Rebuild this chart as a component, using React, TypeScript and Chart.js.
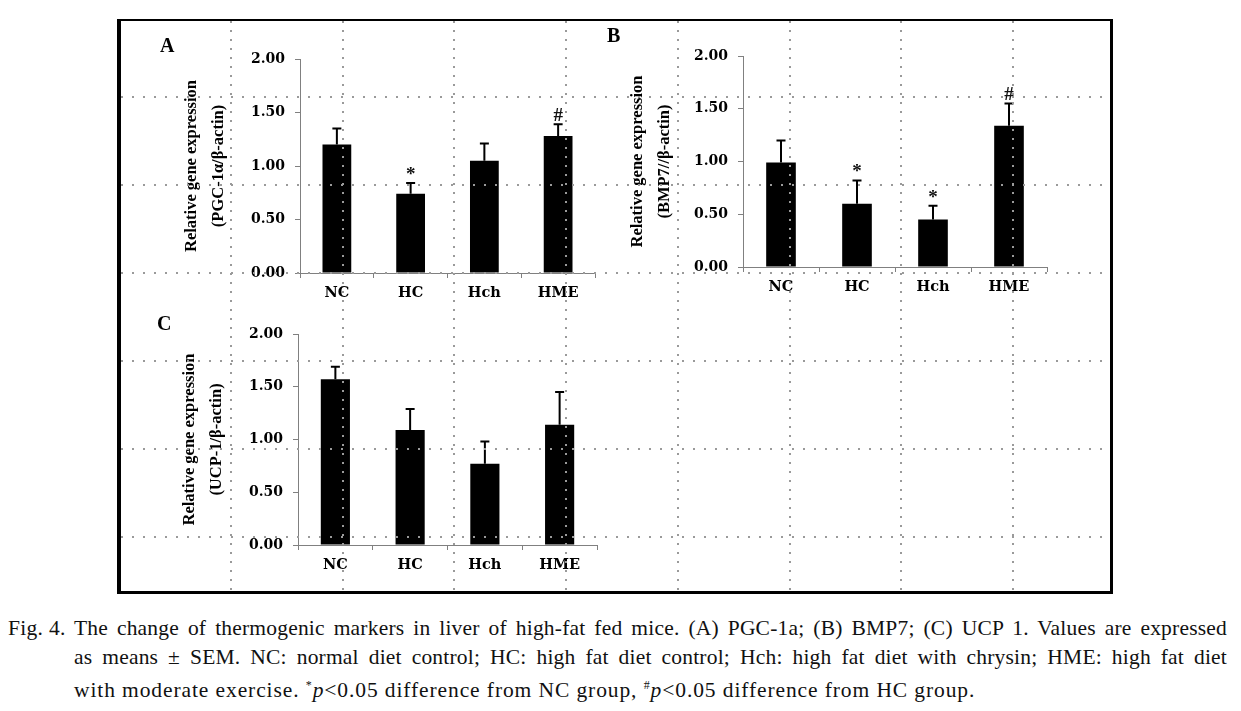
import React, { useEffect, useRef } from 'react';
import { Chart, registerables } from 'chart.js';

Chart.register(...registerables);

// ---------- data ----------
const categories = ['NC', 'HC', 'Hch', 'HME'];

const pgcMean = [1.2, 0.74, 1.05, 1.28];
const pgcSem = [0.15, 0.1, 0.16, 0.11];
const pgcMarks = ['', '*', '', '#'];

const bmpMean = [0.99, 0.6, 0.45, 1.34];
const bmpSem = [0.21, 0.22, 0.13, 0.21];
const bmpMarks = ['', '*', '*', '#'];

const ucpMean = [1.57, 1.09, 0.77, 1.14];
const ucpSem = [0.12, 0.2, 0.21, 0.31];
const ucpMarks = ['', '', '', ''];

const yTickValues = [0, 0.5, 1.0, 1.5, 2.0];
const yMin = 0;
const yMax = 2;

const titleA = ['Relative gene expression', '(PGC-1α/β-actin)'];
const titleB = ['Relative gene expression', '(BMP7//β-actin)'];
const titleC = ['Relative gene expression', '(UCP-1/β-actin)'];

const captionLabel = 'Fig. 4.';
const captionLine1 =
  'The change of thermogenic markers in liver of high-fat fed mice. (A) PGC-1a; (B) BMP7; (C) UCP 1. Values are expressed';
const captionLine2 =
  'as means ± SEM. NC: normal diet control; HC: high fat diet control; Hch: high fat diet with chrysin; HME: high fat diet';

// ---------- styles ----------
const tickFont = { family: '"DejaVu Serif", serif', weight: 'bold' as const, size: 14 };
const xTickFont = { family: '"DejaVu Serif", serif', weight: 'bold' as const, size: 14.5 };
const titleFont = { family: '"Liberation Serif", serif', weight: 'bold' as const, size: 16.5, lineHeight: 1.6 };
const axisColor = '#808080';
const gridDotColor = '#9a9a9a';

type PanelProps = {
  left: number;
  top: number;
  width: number;
  height: number;
  padTop: number;
  padRight: number;
  yWidth: number;
  xHeight: number;
  titlePad: number;
  letter: string;
  letterX: number;
  letterY: number;
  title: string[];
  means: number[];
  sems: number[];
  marks: string[];
};

function Panel(p: PanelProps) {
  const ref = useRef<HTMLCanvasElement | null>(null);
  useEffect(() => {
    if (!ref.current) return;
    const errorBars = {
      id: 'errorBars',
      afterDatasetsDraw(chart: any) {
        const ctx = chart.ctx;
        const meta = chart.getDatasetMeta(0);
        const y = chart.scales.y;
        ctx.save();
        ctx.strokeStyle = '#000';
        ctx.lineWidth = 2;
        meta.data.forEach((bar: any, i: number) => {
          const top = y.getPixelForValue(p.means[i] + p.sems[i]);
          ctx.beginPath();
          ctx.moveTo(bar.x, bar.y);
          ctx.lineTo(bar.x, top);
          ctx.moveTo(bar.x - 4.5, top);
          ctx.lineTo(bar.x + 4.5, top);
          ctx.stroke();
          if (p.marks[i]) {
            ctx.fillStyle = '#111';
            ctx.font = 'bold 19px "Liberation Serif", serif';
            ctx.textAlign = 'center';
            ctx.textBaseline = 'middle';
            ctx.fillText(p.marks[i], bar.x, top - 8);
          }
        });
        ctx.fillStyle = '#000';
        ctx.font = 'bold 20px "Liberation Serif", serif';
        ctx.textAlign = 'left';
        ctx.textBaseline = 'alphabetic';
        ctx.fillText(p.letter, p.letterX, p.letterY);
        ctx.restore();
      },
    };
    const chart = new Chart(ref.current, {
      type: 'bar',
      data: {
        labels: categories,
        datasets: [
          {
            data: p.means,
            backgroundColor: '#000',
            borderWidth: 0,
            categoryPercentage: 1,
            barPercentage: 0.39,
          },
        ],
      },
      options: {
        responsive: false,
        animation: false,
        devicePixelRatio: 1,
        events: [],
        layout: {
          autoPadding: false,
          padding: { top: p.padTop, right: p.padRight, left: 0, bottom: 0 },
        },
        plugins: {
          legend: { display: false },
          tooltip: { enabled: false },
          title: { display: false },
        },
        scales: {
          x: {
            grid: {
              drawOnChartArea: false,
              drawTicks: true,
              tickLength: 5,
              color: axisColor,
              offset: true,
            },
            border: { display: true, color: axisColor, width: 1 },
            ticks: { font: xTickFont, color: '#000', padding: 7 },
            afterFit: (s: any) => {
              s.height = p.xHeight;
            },
          },
          y: {
            min: yMin,
            max: yMax,
            afterBuildTicks: (s: any) => {
              s.ticks = yTickValues.map((v) => ({ value: v }));
            },
            ticks: {
              font: tickFont,
              color: '#000',
              padding: 10,
              callback: (v: any) => Number(v).toFixed(2),
            },
            grid: { drawOnChartArea: false, tickLength: 5, color: axisColor },
            border: { display: true, color: axisColor, width: 1 },
            title: {
              display: true,
              text: p.title,
              font: titleFont,
              color: '#000',
              padding: { top: p.titlePad, bottom: 0 },
            },
            afterFit: (s: any) => {
              s.width = p.yWidth;
            },
          },
        },
      } as any,
      plugins: [errorBars],
    });
    return () => chart.destroy();
  }, []);
  return (
    <canvas
      ref={ref}
      width={p.width}
      height={p.height}
      style={{ position: 'absolute', left: p.left, top: p.top, width: p.width, height: p.height }}
    />
  );
}

function GridOverlay() {
  const ref = useRef<HTMLCanvasElement | null>(null);
  useEffect(() => {
    if (!ref.current) return;
    const chart = new Chart(ref.current, {
      type: 'scatter',
      data: { datasets: [] },
      options: {
        responsive: false,
        animation: false,
        devicePixelRatio: 1,
        events: [],
        layout: { autoPadding: false, padding: 0 },
        plugins: { legend: { display: false }, tooltip: { enabled: false } },
        scales: {
          x: {
            type: 'linear',
            min: 0.015,
            max: 8.869,
            ticks: { stepSize: 1, includeBounds: false, display: false },
            grid: { color: gridDotColor, lineWidth: 2, drawTicks: false },
            border: { display: false, dash: [2, 7] },
            afterFit: (s: any) => {
              s.height = 0;
            },
          },
          y: {
            type: 'linear',
            min: -0.614,
            max: 5.863,
            ticks: { stepSize: 1, includeBounds: false, display: false },
            grid: { color: gridDotColor, lineWidth: 2, drawTicks: false },
            border: { display: false, dash: [2, 9] },
            afterFit: (s: any) => {
              s.width = 0;
            },
          },
        },
      } as any,
    });
    return () => chart.destroy();
  }, []);
  return (
    <canvas
      ref={ref}
      width={989}
      height={570}
      style={{ position: 'absolute', left: 121, top: 21, width: 989, height: 570 }}
    />
  );
}

const captionStyle: React.CSSProperties = {
  fontFamily: '"Liberation Serif", "Times New Roman", serif',
  fontSize: 21.5,
  lineHeight: '28.5px',
  color: '#111',
};

const justifiedLine: React.CSSProperties = {
  textAlign: 'justify',
  textAlignLast: 'justify',
  letterSpacing: '0.2px',
  whiteSpace: 'nowrap',
};

export default function App() {
  return (
    <div style={{ position: 'absolute', left: 0, top: 0, width: 1241, height: 711, background: '#fff', overflow: 'hidden' }}>
      <Panel
        left={150}
        top={30}
        width={460}
        height={290}
        padTop={29}
        padRight={15}
        yWidth={150}
        xHeight={47}
        titlePad={28.8}
        letter="A"
        letterX={10}
        letterY={22}
        title={titleA}
        means={pgcMean}
        sems={pgcSem}
        marks={pgcMarks}
      />
      <Panel
        left={600}
        top={20}
        width={462}
        height={292}
        padTop={36}
        padRight={15}
        yWidth={143}
        xHeight={45}
        titlePad={24.8}
        letter="B"
        letterX={7}
        letterY={22}
        title={titleB}
        means={bmpMean}
        sems={bmpSem}
        marks={bmpMarks}
      />
      <Panel
        left={150}
        top={305}
        width={462}
        height={285}
        padTop={29}
        padRight={15}
        yWidth={148}
        xHeight={45}
        titlePad={26.8}
        letter="C"
        letterX={7}
        letterY={25}
        title={titleC}
        means={ucpMean}
        sems={ucpSem}
        marks={ucpMarks}
      />
      <GridOverlay />
      <div
        style={{
          position: 'absolute',
          left: 117,
          top: 19,
          width: 996,
          height: 575,
          boxSizing: 'border-box',
          borderTop: '2px solid #000',
          borderLeft: '4px solid #000',
          borderRight: '3px solid #000',
          borderBottom: '3px solid #000',
          pointerEvents: 'none',
        }}
      />
      <div style={{ ...captionStyle, position: 'absolute', left: 8, top: 614, letterSpacing: '0.3px' }}>{captionLabel}</div>
      <div style={{ ...captionStyle, position: 'absolute', left: 74, top: 614, width: 1153 }}>
        <div style={justifiedLine}>{captionLine1}</div>
        <div style={justifiedLine}>{captionLine2}</div>
        <div style={{ letterSpacing: '0.9px', whiteSpace: 'nowrap' }}>
          with moderate exercise. <sup style={{ fontSize: 12 }}>*</sup>
          <i>p</i>&lt;0.05 difference from NC group, <sup style={{ fontSize: 12 }}>#</sup>
          <i>p</i>&lt;0.05 difference from HC group.
        </div>
      </div>
    </div>
  );
}
